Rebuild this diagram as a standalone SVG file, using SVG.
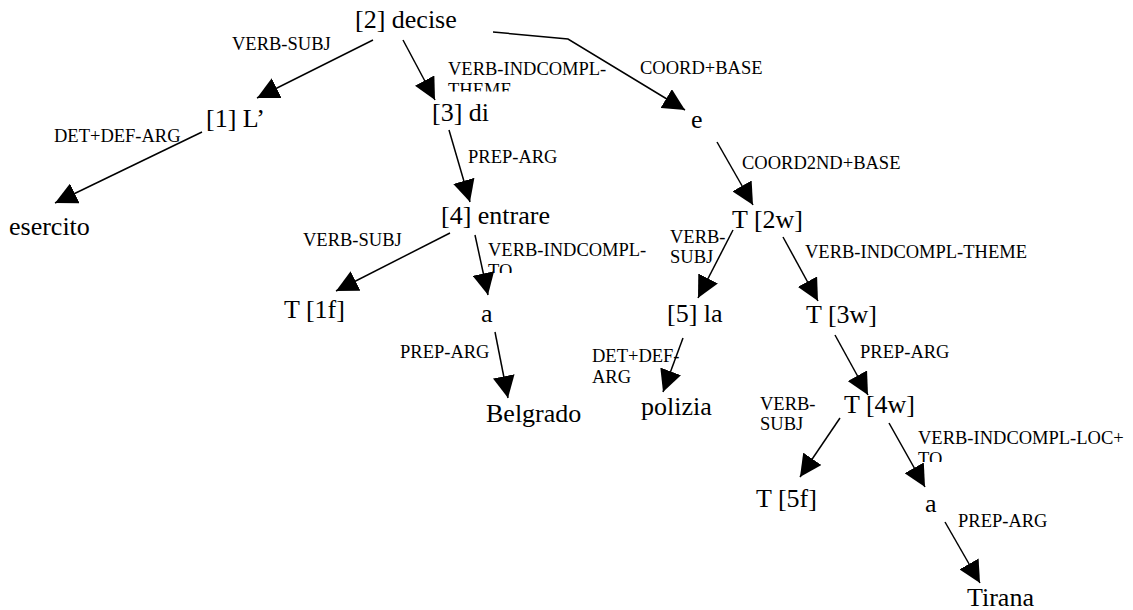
<svg xmlns="http://www.w3.org/2000/svg" width="1133" height="610" viewBox="0 0 1133 610">
<style>
.n{font-family:"Liberation Serif","Times New Roman",serif;font-size:26px;fill:#000}
.l{font-family:"Liberation Serif","Times New Roman",serif;font-size:18.5px;fill:#000}
.c{stroke:#000;stroke-width:1.5;fill:none;marker-end:url(#ah)}
</style>
<defs>
<marker id="ah" viewBox="0 0 22 22" refX="22" refY="11" markerWidth="22" markerHeight="22" markerUnits="userSpaceOnUse" orient="auto">
<path d="M0,0 L22,11 L0,22 Z" fill="#000"/>
</marker>
<clipPath id="clipTheme"><rect x="440" y="55" width="200" height="36.5"/></clipPath>
<clipPath id="clipTo1"><rect x="480" y="235" width="200" height="38"/></clipPath>
<clipPath id="clipTo2"><rect x="910" y="425" width="223" height="37"/></clipPath>
</defs>
<rect width="1133" height="610" fill="#fff"/>
<g id="connectors">
<path class="c" d="M373,40 L257,98"/>
<path class="c" d="M202,132 L55,203"/>
<path class="c" d="M403,40 L435,100"/>
<path class="c" d="M493,32 L568,39 L685,110"/>
<path class="c" d="M449,130 L470,202"/>
<path class="c" d="M717,142 L753,205"/>
<path class="c" d="M450,233 L336,291"/>
<path class="c" d="M475,235 L488,295"/>
<path class="c" d="M495,332 L508,398"/>
<path class="c" d="M733,230 L698,298"/>
<path class="c" d="M783,237 L818,301"/>
<path class="c" d="M683,338 L663,392"/>
<path class="c" d="M835,335 L868,395"/>
<path class="c" d="M840,418 L800,477"/>
<path class="c" d="M889,423 L925,487"/>
<path class="c" d="M945,522 L980,583"/>
</g>
<g id="labels">
<text class="l" x="232" y="50">VERB-SUBJ</text>
<text class="l" x="54" y="142">DET+DEF-ARG</text>
<g clip-path="url(#clipTheme)"><text class="l" x="448" y="75">VERB-INDCOMPL-</text><text class="l" x="448" y="95.5">THEME</text></g>
<text class="l" x="640" y="74">COORD+BASE</text>
<text class="l" x="468" y="163">PREP-ARG</text>
<text class="l" x="742" y="169">COORD2ND+BASE</text>
<text class="l" x="303" y="246">VERB-SUBJ</text>
<g clip-path="url(#clipTo1)"><text class="l" x="488" y="256">VERB-INDCOMPL-</text><text class="l" x="488" y="276.5">TO</text></g>
<text class="l" x="400" y="358">PREP-ARG</text>
<text class="l" x="670" y="243">VERB-</text>
<text class="l" x="670" y="263">SUBJ</text>
<text class="l" x="805" y="258">VERB-INDCOMPL-THEME</text>
<text class="l" x="592" y="362">DET+DEF-</text>
<text class="l" x="592" y="383">ARG</text>
<text class="l" x="860" y="358">PREP-ARG</text>
<text class="l" x="760" y="410">VERB-</text>
<text class="l" x="760" y="430">SUBJ</text>
<g clip-path="url(#clipTo2)"><text class="l" x="918" y="444">VERB-INDCOMPL-LOC+</text><text class="l" x="918" y="464.5">TO</text></g>
<text class="l" x="958" y="527">PREP-ARG</text>
</g>
<g id="n2"><text class="n" x="355" y="28">[2] decise</text></g>
<g id="n1"><text class="n" x="206" y="127">[1] L’</text></g>
<g id="esercito"><text class="n" x="9" y="235">esercito</text></g>
<g id="n3"><text class="n" x="432" y="121">[3] di</text></g>
<g id="e"><text class="n" x="691" y="128">e</text></g>
<g id="n4"><text class="n" x="441" y="224">[4] entrare</text></g>
<g id="t2w"><text class="n" x="732" y="228">T [2w]</text></g>
<g id="t1f"><text class="n" x="284" y="318">T [1f]</text></g>
<g id="a1"><text class="n" x="481" y="322">a</text></g>
<g id="belgrado"><text class="n" x="486" y="422">Belgrado</text></g>
<g id="n5"><text class="n" x="667" y="322">[5] la</text></g>
<g id="t3w"><text class="n" x="806" y="323">T [3w]</text></g>
<g id="polizia"><text class="n" x="641" y="415">polizia</text></g>
<g id="t4w"><text class="n" x="844" y="413">T [4w]</text></g>
<g id="t5f"><text class="n" x="756" y="507">T [5f]</text></g>
<g id="a2"><text class="n" x="925" y="512">a</text></g>
<g id="tirana"><text class="n" x="967" y="606">Tirana</text></g>
</svg>
